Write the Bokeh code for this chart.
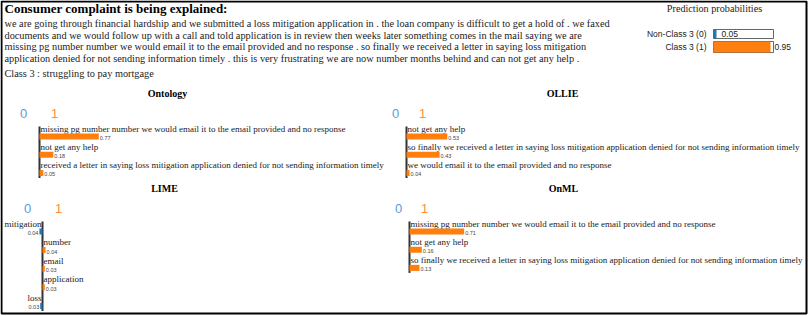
from bokeh.plotting import figure
from bokeh.models import Range1d
from bokeh.core.properties import value
from bokeh.embed import file_html
from bokeh.resources import INLINE

# ---------------- data ----------------
title_text = "Consumer complaint is being explained:"
complaint_lines = [
    "we are going through financial hardship and we submitted a loss mitigation application in . the loan company is difficult to get a hold of . we faxed",
    "documents and we would follow up with a call and told application is in review then weeks later something comes in the mail saying we are",
    "missing pg number number we would email it to the email provided and no response . so finally we received a letter in saying loss mitigation",
    "application denied for not sending information timely . this is very frustrating we are now number months behind and can not get any help .",
]
class_text = "Class 3 : struggling to pay mortgage"

prob_labels = ["Non-Class 3 (0)", "Class 3 (1)"]
prob_values = [0.05, 0.95]

ontology_features = [
    "missing pg number number we would email it to the email provided and no response",
    "not get any help",
    "received a letter in saying loss mitigation application denied for not sending information timely",
]
ontology_values = [0.77, 0.18, 0.05]

ollie_features = [
    "not get any help",
    "so finally we received a letter in saying loss mitigation application denied for not sending information timely",
    "we would email it to the email provided and no response",
]
ollie_values = [0.53, 0.43, 0.04]

lime_features = ["mitigation", "number", "email", "application", "loss"]
lime_values = [-0.04, 0.04, 0.03, 0.03, -0.03]

onml_features = [
    "missing pg number number we would email it to the email provided and no response",
    "not get any help",
    "so finally we received a letter in saying loss mitigation application denied for not sending information timely",
]
onml_values = [0.71, 0.16, 0.13]

# ---------------- styling ----------------
SERIF = value("Liberation Serif")
SANS = value("Liberation Sans")
BLUE = "#1f77b4"
ORANGE = "#ff7f0e"
LBLUE = "#5b9bd5"

W, H = 809, 316
p = figure(width=W, height=H, output_backend="svg", toolbar_location=None,
           x_range=Range1d(0, W), y_range=Range1d(H, 0), min_border=0)
p.axis.visible = False
p.grid.visible = False
p.outline_line_color = None

# outer border
p.quad(left=[1], right=[806], top=[1], bottom=[313], fill_color=None,
       line_color="black", line_width=2)

# header
p.text(x=[4], y=[7.5], text=[title_text], text_font=SERIF, text_font_size="13px",
       text_font_style="bold", text_baseline="middle", text_color="black")
line_y = [23, 34.5, 46, 57.5]
p.text(x=[4] * len(complaint_lines), y=line_y, text=complaint_lines, text_font=SERIF,
       text_font_size="10.3px", text_baseline="middle", text_color="#222")
p.text(x=[4], y=[73], text=[class_text], text_font=SERIF, text_font_size="10.3px",
       text_baseline="middle", text_color="#222")

# prediction probabilities
p.text(x=[714], y=[7.5], text=["Prediction probabilities"], text_font=SERIF,
       text_font_size="10.2px", text_align="center", text_baseline="middle", text_color="#222")
pb_left, pb_w = 713, 60
pb_rows = [(29, 38), (41, 52)]
pb_colors = [BLUE, ORANGE]
for i, (lab, v) in enumerate(zip(prob_labels, prob_values)):
    t, b = pb_rows[i]
    p.text(x=[706], y=[(t + b) / 2], text=[lab], text_font=SANS, text_font_size="8.5px",
           text_align="right", text_baseline="middle", text_color="#222")
    p.quad(left=[pb_left], right=[pb_left + pb_w], top=[t], bottom=[b],
           fill_color="white", line_color="#666", line_width=1)
    p.quad(left=[pb_left], right=[pb_left + pb_w * v], top=[t], bottom=[b],
           fill_color=pb_colors[i], line_color=None)
    lx = pb_left + pb_w * v + 5 if v < 0.5 else pb_left + pb_w + 1
    p.text(x=[lx], y=[(t + b) / 2], text=[f"{v:.2f}"], text_font=SANS, text_font_size="8.5px",
           text_baseline="middle", text_color="#222")

SCALE = 77.0


def panel(title, title_x, top, axis_x, zero_x, one_x, feats, vals, step=18.2):
    p.text(x=[title_x], y=[top], text=[title], text_font=SERIF, text_font_size="10px",
           text_font_style="bold", text_align="center", text_baseline="middle", text_color="black")
    p.text(x=[zero_x], y=[top + 20], text=["0"], text_font=SANS, text_font_size="13px",
           text_align="center", text_baseline="middle", text_color=LBLUE)
    p.text(x=[one_x], y=[top + 20], text=["1"], text_font=SANS, text_font_size="13px",
           text_align="center", text_baseline="middle", text_color="#ff8c3a")
    y0 = top + 35
    n = len(feats)
    p.segment(x0=[axis_x], x1=[axis_x], y0=[y0 - 2], y1=[y0 + step * (n - 1) + 13],
              line_color="#333", line_width=2)
    for i, (f, v) in enumerate(zip(feats, vals)):
        ty = y0 + step * i
        bt, bb = ty + 5, ty + 11
        if v >= 0:
            p.text(x=[axis_x + 1], y=[ty], text=[f], text_font=SERIF, text_font_size="9px",
                   text_baseline="middle", text_color="#222")
            p.quad(left=[axis_x], right=[axis_x + v * SCALE], top=[bt], bottom=[bb],
                   fill_color=ORANGE, line_color=None)
            p.text(x=[axis_x + v * SCALE + 1], y=[bb - 1.5], text=[f"{abs(v):.2f}"],
                   text_font=SANS, text_font_size="5.5px", text_baseline="middle", text_color="#444")
        else:
            p.text(x=[axis_x - 1], y=[ty], text=[f], text_font=SERIF, text_font_size="9px",
                   text_align="right", text_baseline="middle", text_color="#222")
            p.quad(left=[axis_x + v * SCALE], right=[axis_x], top=[bt], bottom=[bb],
                   fill_color=BLUE, line_color=None)
            p.text(x=[axis_x + v * SCALE - 1], y=[bb - 1.5], text=[f"{abs(v):.2f}"],
                   text_font=SANS, text_font_size="5.5px", text_align="right",
                   text_baseline="middle", text_color="#444")


panel("Ontology", 167, 93, 39, 23, 54, ontology_features, ontology_values)
panel("OLLIE", 562, 93, 406, 395, 422, ollie_features, ollie_values)
panel("LIME", 164, 188, 42, 27, 58, lime_features, lime_values, step=18.6)
panel("OnML", 563, 188, 409, 398, 424, onml_features, onml_values)

open("out.html", "w").write(file_html(p, INLINE))
